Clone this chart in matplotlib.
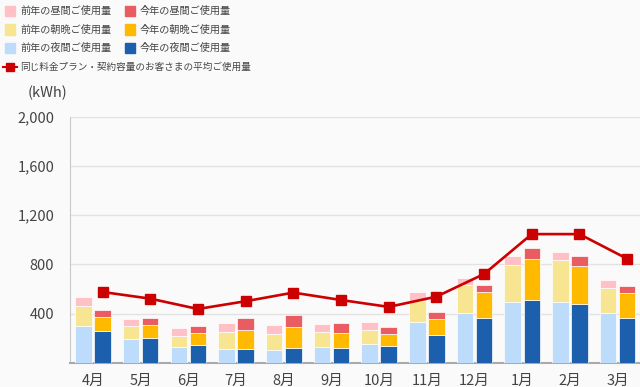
import matplotlib
matplotlib.use("Agg")
import matplotlib.pyplot as plt
import numpy as np
from matplotlib.lines import Line2D

plt.rcParams['font.family'] = ['Noto Sans CJK JP', 'DejaVu Sans']

months = ["4月", "5月", "6月", "7月", "8月", "9月", "10月", "11月", "12月", "1月", "2月", "3月"]
prev_night = [300, 190, 130, 116, 105, 130, 154, 330, 402, 497, 497, 405]
prev_morning = [165, 105, 90, 132, 127, 118, 111, 170, 230, 294, 340, 205]
prev_day = [70, 60, 60, 73, 78, 65, 67, 72, 59, 76, 62, 60]
this_night = [255, 200, 143, 113, 119, 122, 135, 227, 362, 513, 475, 362]
this_morning = [118, 105, 100, 154, 175, 124, 100, 127, 210, 329, 313, 208]
this_day = [56, 62, 57, 100, 98, 78, 54, 59, 63, 87, 76, 56]
average = [575, 521, 437, 500, 570, 510, 454, 537, 721, 1045, 1045, 845]
yticks = [400, 800, 1200, 1600, 2000]
ytick_labels = ["400", "800", "1,200", "1,600", "2,000"]

labels = ["前年の昼間ご使用量", "今年の昼間ご使用量",
          "前年の朝晩ご使用量", "今年の朝晩ご使用量",
          "前年の夜間ご使用量", "今年の夜間ご使用量",
          "同じ料金プラン・契約容量のお客さまの平均ご使用量"]

c_prev_day, c_this_day = "#ffc0c6", "#e85c62"
c_prev_morn, c_this_morn = "#f7e592", "#ffba00"
c_prev_night, c_this_night = "#bddcfc", "#1c5fad"
c_line = "#cc0000"
bg = "#fafafa"

fig = plt.figure(figsize=(6.4, 3.87), dpi=100, facecolor=bg)
ax = fig.add_axes([69.6/640, 1-362.8/387, (640-69.6)/640, (362.8-116.5)/387], facecolor=bg)

x = np.arange(len(months))
w = 0.345
off = 0.2
pn, pm, pd_ = np.array(prev_night), np.array(prev_morning), np.array(prev_day)
tn, tm, td = np.array(this_night), np.array(this_morning), np.array(this_day)
kw = dict(width=w, edgecolor="white", linewidth=0.5, zorder=3)
ax.bar(x - off, pn, color=c_prev_night, **kw)
ax.bar(x - off, pm, bottom=pn, color=c_prev_morn, **kw)
ax.bar(x - off, pd_, bottom=pn + pm, color=c_prev_day, **kw)
ax.bar(x + off, tn, color=c_this_night, **kw)
ax.bar(x + off, tm, bottom=tn, color=c_this_morn, **kw)
ax.bar(x + off, td, bottom=tn + tm, color=c_this_day, **kw)
ax.plot(x + off, average, color=c_line, lw=1.9, marker="s", markersize=7, zorder=4, clip_on=False)

ax.set_xlim(-0.49, 11.47)
ax.set_ylim(0, 2000)
ax.set_yticks(yticks)
ax.set_yticklabels(ytick_labels)
ax.set_xticks(x)
ax.set_xticklabels(months)
ax.tick_params(axis="both", length=0, labelsize=10.5, colors="#444444")
ax.tick_params(axis="y", pad=11)
ax.tick_params(axis="x", pad=8)
ax.grid(axis="y", color="#e2e2e2", lw=1, zorder=0)
for s in ["top", "right"]:
    ax.spines[s].set_visible(False)
ax.spines["left"].set_color("#c8c8c8")
ax.spines["bottom"].set_color("#aaaaaa")
ax.spines["bottom"].set_linewidth(1.5)

fig.text(28/640, 1-93/387, "(kWh)", fontsize=10.5, color="#444444", va="center", ha="left")

ys = [11, 11, 29.5, 29.5, 48, 48]
xs = [5, 125, 5, 125, 5, 125]
for (xx, yy, col, lab) in zip(xs, ys, [c_prev_day, c_this_day, c_prev_morn, c_this_morn, c_prev_night, c_this_night], labels[:6]):
    fig.patches.append(plt.Rectangle((xx/640, 1-(yy+5)/387), 10/640, 10/387, transform=fig.transFigure, color=col, figure=fig))
    fig.text((xx+15)/640, 1-yy/387, lab, fontsize=7.3, color="#444444", va="center", ha="left")
fig.add_artist(Line2D([3/640, 17/640], [1-67/387, 1-67/387], color=c_line, lw=1.5, transform=fig.transFigure))
fig.patches.append(plt.Rectangle((6/640, 1-71/387), 8/640, 8/387, transform=fig.transFigure, color=c_line, figure=fig))
fig.text(20/640, 1-67/387, labels[6], fontsize=6.9, color="#444444", va="center", ha="left")

fig.savefig("out.png", dpi=100, facecolor=bg)
